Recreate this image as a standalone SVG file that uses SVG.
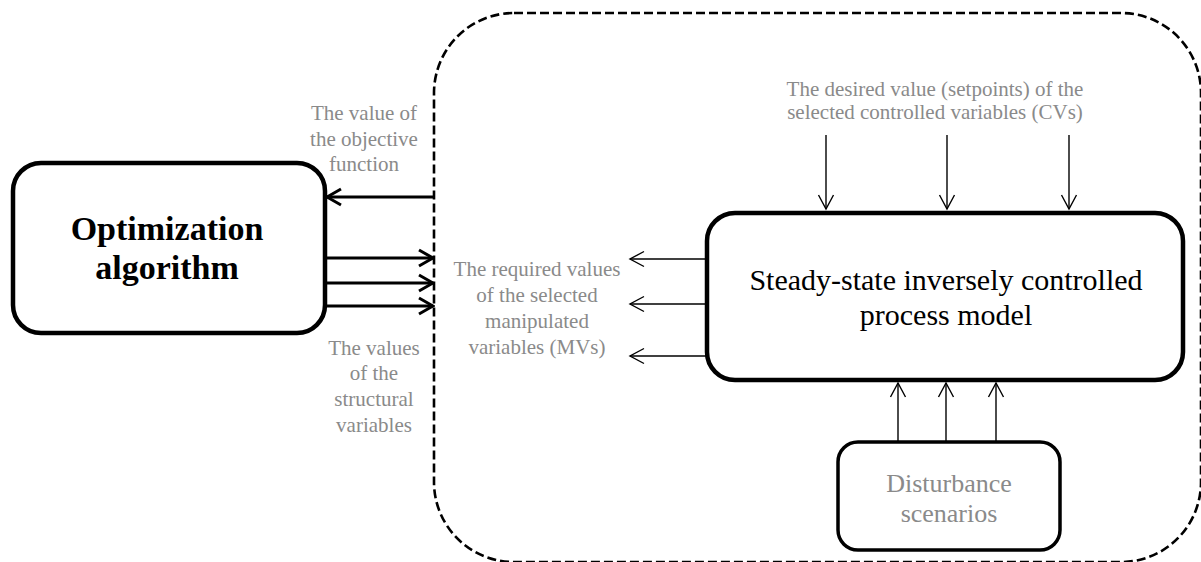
<svg xmlns="http://www.w3.org/2000/svg" width="1201" height="562" viewBox="0 0 1201 562">
<style>
.box{fill:#fff;stroke:#000;stroke-width:4.5}
.dbox{fill:#fff;stroke:#000;stroke-width:3.5}
.frame{fill:none;stroke:#000;stroke-width:2.6;stroke-dasharray:9 4}
.lbl{font-family:"Liberation Serif","Times New Roman",serif;font-size:21px;fill:#8a8a8a;text-anchor:middle}
.title{font-family:"Liberation Serif","Times New Roman",serif;fill:#000;text-anchor:middle}
.thick{stroke:#000;stroke-width:3;fill:none;marker-end:url(#hk)}
.thin{stroke:#000;stroke-width:1.4;fill:none;marker-end:url(#hn)}
</style>
<defs>
<marker id="hk" markerUnits="userSpaceOnUse" viewBox="0 0 18 20" refX="16" refY="10" markerWidth="18" markerHeight="20" orient="auto">
<path d="M2,2 L16,10 L2,18" fill="none" stroke="#000" stroke-width="3"/>
</marker>
<marker id="hn" markerUnits="userSpaceOnUse" viewBox="0 0 18 20" refX="16" refY="10" markerWidth="18" markerHeight="20" orient="auto">
<path d="M2,2.5 L16,10 L2,17.5" fill="none" stroke="#000" stroke-width="1.4"/>
</marker>
</defs>
<g id="frame">
<rect class="frame" x="434" y="13" width="767" height="549" rx="80" ry="80"/>
</g>
<g id="optimization">
<rect class="box" x="13" y="163" width="312" height="170" rx="28" ry="28"/>
<text class="title" x="167" y="240" font-size="34" font-weight="bold">Optimization</text>
<text class="title" x="167" y="279" font-size="34" font-weight="bold">algorithm</text>
</g>
<g id="model">
<rect class="box" x="707" y="213" width="476" height="167" rx="28" ry="28"/>
<text class="title" x="946" y="290" font-size="30">Steady-state inversely controlled</text>
<text class="title" x="946" y="325" font-size="30">process model</text>
</g>
<g id="disturbance">
<rect class="dbox" x="838" y="442" width="222" height="108" rx="20" ry="20"/>
<text class="lbl" x="949" y="492" style="font-size:26px">Disturbance</text>
<text class="lbl" x="949" y="522" style="font-size:26px">scenarios</text>
</g>
<g id="labels">
<text class="lbl" x="364" y="120">The value of</text>
<text class="lbl" x="364" y="146">the objective</text>
<text class="lbl" x="364" y="171">function</text>
<text class="lbl" x="374" y="355">The values</text>
<text class="lbl" x="374" y="380">of the</text>
<text class="lbl" x="374" y="406">structural</text>
<text class="lbl" x="374" y="432">variables</text>
<text class="lbl" x="537" y="276">The required values</text>
<text class="lbl" x="537" y="302">of the selected</text>
<text class="lbl" x="537" y="328">manipulated</text>
<text class="lbl" x="537" y="354">variables (MVs)</text>
<text class="lbl" x="935" y="96">The desired value (setpoints) of the</text>
<text class="lbl" x="935" y="119">selected controlled variables (CVs)</text>
</g>
<g id="connectors">
<line class="thick" x1="434" y1="197" x2="327" y2="197"/>
<line class="thick" x1="325" y1="258" x2="433" y2="258"/>
<line class="thick" x1="325" y1="283" x2="433" y2="283"/>
<line class="thick" x1="325" y1="306" x2="433" y2="306"/>
<line class="thin" x1="707" y1="259" x2="630" y2="259"/>
<line class="thin" x1="707" y1="304" x2="630" y2="304"/>
<line class="thin" x1="707" y1="356" x2="630" y2="356"/>
<line class="thin" x1="826" y1="135" x2="826" y2="209"/>
<line class="thin" x1="947" y1="135" x2="947" y2="209"/>
<line class="thin" x1="1069" y1="135" x2="1069" y2="209"/>
<line class="thin" x1="898" y1="442" x2="898" y2="383"/>
<line class="thin" x1="946" y1="442" x2="946" y2="383"/>
<line class="thin" x1="996" y1="442" x2="996" y2="383"/>
</g>
</svg>
